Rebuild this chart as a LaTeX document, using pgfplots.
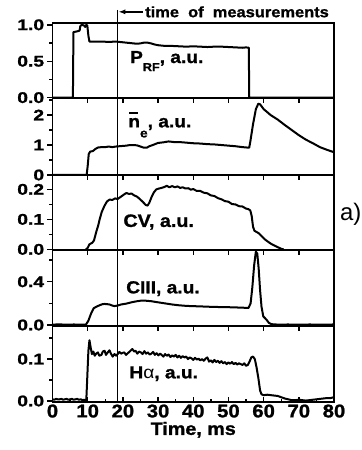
\documentclass[border=0pt]{standalone}
\usepackage{fontspec}
\setmainfont{Liberation Sans}[FakeStretch=1.1, BoldFeatures={FakeBold=1.2}]
\newfontfamily\ytf{Liberation Sans}[FakeStretch=1.25, BoldFeatures={FakeBold=1.2}]
\newfontfamily\plainf{Liberation Sans}
\usepackage{pgfplots}
\pgfplotsset{compat=1.18}
\usetikzlibrary{arrows.meta}

\tikzset{lab/.style={font=\fontsize{17.5}{17.5}\selectfont\bfseries, anchor=base west, inner sep=0pt}}
\pgfplotsset{
  panel/.style={
    scale only axis, width=281.5bp, xmin=0, xmax=80,
    axis line style={line width=1.6bp},
    every tick/.style={black, line width=1.4bp},
    major tick length=5bp, minor tick length=3bp,
    ytick pos=left, ytick align=outside,
    yticklabel style={font=\ytf\fontsize{15.5}{15.5}\selectfont\bfseries, anchor=east, inner sep=0pt, xshift=-3.2bp},
    /pgf/number format/assume math mode=true,
    clip mode=individual,
  },
  upper/.style={panel, xtick={10,20,...,70}, xticklabels={}, xtick pos=left, xtick align=outside},
  curve/.style={black, line width=2bp, line join=round, mark=none},
}

\begin{document}
\begin{tikzpicture}
\useasboundingbox (-52.5bp,-48bp) rectangle (309.5bp,402bp);

% ---------- Panel 5: H alpha ----------
\begin{axis}[panel, at={(0,0)}, anchor=south west, height=76bp,
  ymin=-0.0024, ymax=0.179,
  ytick={0,0.1}, yticklabels={0.0,0.1}, minor ytick={0.05,0.15},
  xtick={0,10,...,80}, minor x tick num=1, xtick pos=left, xtick align=inside,
  xticklabel style={font=\fontsize{18.5}{18.5}\selectfont\bfseries, anchor=north, inner sep=0pt, yshift=-2.3bp},
  xlabel={Time, ms},
  xlabel style={font=\fontsize{18}{18}\selectfont\bfseries, at={(axis description cs:0.5,0)}, anchor=north, inner sep=0pt, yshift=-19.7bp},
]
\addplot[curve] coordinates {
(0,0.004) (0.5,0.003) (1,0.005) (1.5,0.004) (2,0.004) (2.5,0.005) (3,0.003) (3.5,0.004) (4,0.005) (4.5,0.003)
(5,0.004) (5.5,0.005) (6,0.003) (6.5,0.004) (7,0.005) (7.5,0.003) (8,0.004) (8.5,0.002) (9,0.003) (9.6,0.001)
(9.8,0.04) (10.2,0.12) (10.5,0.145) (10.8,0.13) (11.2,0.112) (11.6,0.118) (12,0.108) (12.4,0.113) (12.9,0.116)
(13.3,0.108) (13.9,0.110) (14.3,0.118) (14.8,0.12) (15.2,0.11) (15.7,0.116) (16.2,0.121) (16.6,0.113) (17.1,0.106)
(17.6,0.112) (18.1,0.108) (18.5,0.112) (19.0,0.117) (19.5,0.113) (20,0.115) (20.4,0.116) (20.9,0.11) (21.4,0.114)
(21.8,0.117) (22.3,0.121) (22.7,0.124) (23.2,0.118) (23.6,0.12) (24.1,0.113) (24.6,0.118) (25.1,0.116) (25.6,0.112)
(26.1,0.119) (26.6,0.113) (27.1,0.116) (27.6,0.111) (28.1,0.113) (28.6,0.117) (29.1,0.11) (29.6,0.114) (30.1,0.109)
(30.6,0.113) (31,0.11) (31.5,0.106) (32,0.112) (32.5,0.108) (33,0.111) (33.5,0.105) (34,0.109) (34.5,0.106)
(35,0.11) (35.5,0.104) (36,0.108) (36.5,0.103) (37,0.107) (37.5,0.104) (38,0.106) (38.5,0.1) (39,0.104)
(39.5,0.102) (40,0.098) (40.5,0.103) (41,0.099) (41.5,0.101) (42,0.097) (42.5,0.1) (43,0.096) (43.5,0.101)
(44,0.104) (44.5,0.094) (45,0.097) (45.5,0.092) (46,0.098) (46.5,0.093) (47,0.096) (47.5,0.091) (48,0.095)
(48.5,0.09) (49,0.093) (49.5,0.088) (50,0.092) (50.5,0.089) (51,0.093) (51.5,0.088) (52,0.091) (52.5,0.087)
(53,0.09) (53.5,0.088) (54,0.086) (54.5,0.09) (55,0.084) (55.5,0.086) (56,0.094) (56.5,0.104) (57,0.106)
(57.5,0.1) (58,0.08) (58.5,0.055) (59,0.025) (59.4,0.016) (60,0.014) (61,0.015) (62,0.014) (63,0.013)
(64,0.012) (65,0.009) (66,0.006) (67,0.004) (68,0.002) (69,0.002) (70,0.003) (71,0.002) (72,0.001)
(73,0.002) (74,0.003) (75,0.004) (76,0.005) (77,0.006) (78,0.007) (79,0.007) (80,0.009)
};
\node[lab] at (axis cs:21.8,0.054) {H{\mdseries α}, a.u.};
\coordinate (vb) at (axis cs:18.5,-0.0024);
\end{axis}

% ---------- Panel 4: CIII ----------
\begin{axis}[upper, at={(0,76bp)}, anchor=south west, height=76bp,
  ymin=-0.009, ymax=0.694,
  ytick={0,0.4}, yticklabels={0.0,0.4}, minor ytick={0.2,0.6},
]
\addplot[curve] coordinates {
(0,0.004) (2,0.006) (4,0.003) (6,0.005) (8,0.004) (9.5,0.004) (10.2,0.04) (11,0.11) (11.7,0.155)
(12.5,0.17) (13.4,0.183) (14.2,0.193) (14.8,0.195) (15.5,0.193) (16.2,0.19) (17,0.18) (17.6,0.175)
(18.5,0.18) (19.5,0.19) (21,0.198) (22.4,0.21) (24,0.22) (25.3,0.226) (26.5,0.225) (28.1,0.22)
(30,0.21) (32,0.2) (34,0.19) (35.8,0.183) (38,0.177) (40.5,0.174) (43,0.171) (45.3,0.168) (48,0.166)
(51,0.164) (53.5,0.161) (55.7,0.158) (56.3,0.2) (56.8,0.35) (57.3,0.55) (57.8,0.68) (58.2,0.66)
(58.6,0.52) (59.0,0.32) (59.4,0.17) (59.9,0.08) (60.8,0.05) (61.5,0.02) (62.2,0.008) (64,0.004)
(67,0.005) (70,0.003) (73,0.005) (76,0.004) (80,0.005)
};
\node[lab] at (axis cs:20.9,0.293) {CIII, a.u.};
\end{axis}

% ---------- Panel 3: CV ----------
\begin{axis}[upper, at={(0,152bp)}, anchor=south west, height=75bp,
  ymin=-0.002, ymax=0.248,
  ytick={0,0.1,0.2}, yticklabels={0.0,0.1,0.2}, minor ytick={0.05,0.15},
]
\addplot[curve] coordinates {
(9.5,0) (10.0,0.005) (10.5,0.017) (11.3,0.022) (11.8,0.03) (12.4,0.057) (13.0,0.08) (13.4,0.10)
(14.0,0.125) (14.8,0.146) (15.5,0.16) (16.2,0.166) (17,0.165) (17.8,0.17) (18.5,0.168) (19.5,0.176)
(20.3,0.183) (21,0.188) (21.7,0.185) (22.5,0.186) (23.2,0.18) (24,0.176) (24.8,0.168) (25.7,0.158)
(26.5,0.148) (27.0,0.146) (27.5,0.155) (28.1,0.173) (28.8,0.19) (29.5,0.2) (30.3,0.203) (31,0.205)
(31.8,0.208) (32.5,0.212) (33.2,0.207) (34,0.211) (34.8,0.207) (35.5,0.21) (36.3,0.205) (37,0.207)
(37.8,0.203) (38.6,0.204) (39.3,0.199) (40,0.201) (41,0.195) (42,0.195) (43,0.189) (44,0.187)
(45,0.18) (46,0.178) (47,0.171) (48,0.167) (49,0.161) (50,0.159) (51,0.151) (52,0.150) (53,0.144)
(54,0.143) (55,0.136) (55.7,0.134) (56.2,0.13) (56.6,0.112) (57.0,0.075) (57.4,0.062) (58.0,0.058)
(58.6,0.054) (59.3,0.046) (60.3,0.034) (61.2,0.026) (62.2,0.018) (63.2,0.012) (64.1,0.007) (65,0.002) (65.7,0)
};
\node[lab, font=\fontsize{18}{18}\selectfont\bfseries] at (axis cs:20.1,0.075) {CV, a.u.};
\node[font=\plainf\fontsize{24}{24}\selectfont, anchor=west, inner sep=0pt] at (axis cs:81.7,0.118) {a)};
\end{axis}

% ---------- Panel 2: n_e ----------
\begin{axis}[upper, at={(0,227bp)}, anchor=south west, height=77bp,
  ymin=0, ymax=2.57,
  ytick={0,1,2}, yticklabels={0,1,2}, minor ytick={0.5,1.5,2.5},
]
\addplot[curve] coordinates {
(0,0) (9.7,0) (10.0,0.3) (10.3,0.7) (10.7,0.78) (11.5,0.8) (12.2,0.87) (13,0.92) (14,0.93) (15,0.93)
(16,0.95) (17,0.93) (18,0.95) (19,0.96) (20,0.97) (21,0.98) (22,1.0) (23,1.0) (24,0.99) (25,0.95)
(26,0.91) (26.8,0.91) (27.5,0.96) (28.5,1.0) (30,1.07) (31.5,1.09) (33,1.12) (34.5,1.10) (36,1.10)
(38,1.08) (40,1.06) (42,1.05) (44,1.03) (46,1.02) (48,1.0) (50,0.98) (52,0.96) (54,0.93) (55.9,0.91)
(56.2,1.1) (57,1.7) (57.8,2.2) (58.5,2.38) (59,2.36) (60,2.2) (61,2.1) (62,2.0) (64,1.85) (66,1.67)
(68,1.50) (70,1.33) (72,1.18) (74,1.06) (76,0.93) (78,0.84) (80,0.76)
};
\node[lab] at (axis cs:21.5,1.59) {\makebox[0pt][l]{\hspace{0.06em}\rule[0.78em]{0.5em}{0.09em}}n\raisebox{-10bp}{\fontsize{12.5}{12.5}\selectfont e}, a.u.};
\end{axis}

% ---------- Panel 1: P_RF ----------
\begin{axis}[upper, at={(0,304bp)}, anchor=south west, height=75bp,
  ymin=-0.005, ymax=1.025,
  ytick={0,0.5,1}, yticklabels={0.0,0.5,1.0}, minor ytick={0.25,0.75},
]
\addplot[curve] coordinates {
(0,0) (5.8,0) (5.95,0.90) (7.0,0.91) (7.7,0.92) (7.9,0.98) (8.3,1.0) (9.0,0.99) (9.3,0.97) (9.6,1.0)
(9.9,0.99) (10.2,0.85) (10.5,0.77) (12,0.77) (14,0.77) (16,0.765) (18,0.77) (19,0.765) (20,0.76)
(21,0.755) (22,0.75) (23,0.745) (24,0.74) (25,0.745) (26,0.755) (27,0.755) (28,0.745) (29,0.73)
(30,0.72) (31,0.715) (32,0.71) (34,0.71) (36,0.705) (38,0.70) (40,0.705) (42,0.70) (44,0.695)
(46,0.70) (48,0.70) (50,0.695) (52,0.69) (54,0.685) (55,0.69) (55.8,0.685) (55.9,0) (80,0)
};
\node[lab] at (axis cs:22.0,0.475) {P\raisebox{-8bp}{\fontsize{11.5}{11.5}\selectfont RF}, a.u.};
\coordinate (vt) at (axis cs:18.5,1.205);
\draw[line width=1.4bp, -{Latex[length=7bp,width=5bp]}] (axis cs:25.7,1.178) -- (axis cs:18.7,1.178);
\node[font=\fontsize{15}{15}\selectfont\bfseries, anchor=west, inner sep=0pt] at (axis cs:26.3,1.178) {time~~of~~measurements};
\end{axis}

\draw[line width=1.4bp] (vt) -- (vb);
\end{tikzpicture}
\end{document}
